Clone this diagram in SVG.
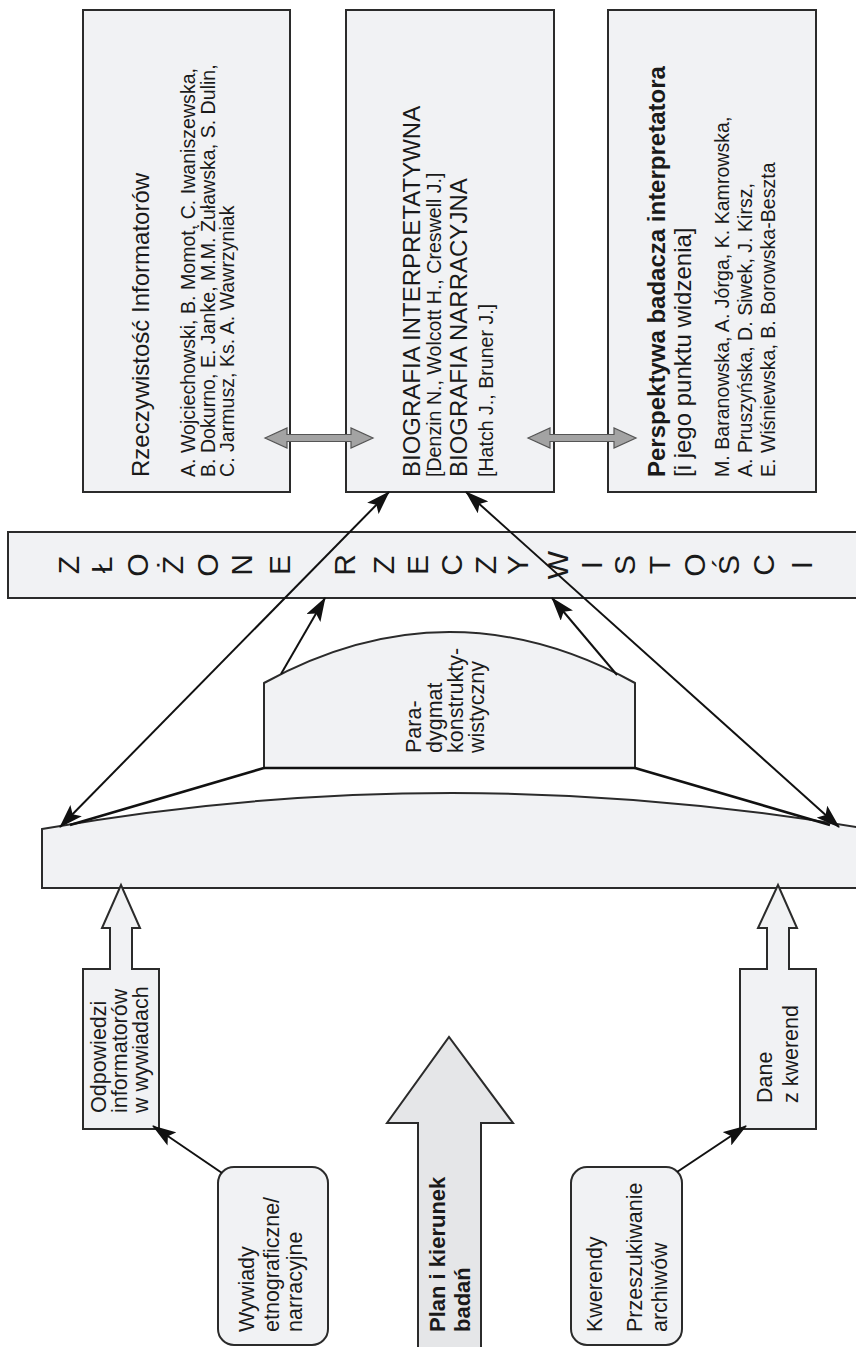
<svg xmlns="http://www.w3.org/2000/svg" width="856" height="1347" viewBox="0 0 856 1347">
<defs>
<style>
.box{fill:#f1f2f4;stroke:#2b2b2b;stroke-width:2}
.big{fill:#e5e6e8;stroke:#2b2b2b;stroke-width:2}
.dbl{fill:#a3a3a3;stroke:#555;stroke-width:1.2}
.ln{fill:none;stroke:#111;stroke-width:2}
.thick{fill:none;stroke:#111;stroke-width:2.6}
text{font-family:"Liberation Sans",Arial,sans-serif;fill:#1a1a1a}
.t{font-size:24px}
.s{font-size:19.6px}
.m{font-size:21.5px}
.b{font-weight:bold}
.ban{font-size:30px;text-anchor:middle;dominant-baseline:central}
</style>
<marker id="ah" viewBox="0 0 24 16" refX="23" refY="8" markerWidth="24" markerHeight="16" markerUnits="userSpaceOnUse" orient="auto-start-reverse">
<path d="M0,0 L24,8 L0,16 L5,8 Z" fill="#111"/>
</marker>
</defs>
<rect width="856" height="1347" fill="#fff"/>

<g id="box-rzeczywistosc">
<rect class="box" x="83" y="10" width="207" height="482"/>
<g transform="rotate(-90)">
<text class="t" x="-477" y="149">Rzeczywistość Informatorów</text>
<text class="s" x="-477" y="195">A. Wojciechowski, B. Momot, C. Iwaniszewska,</text>
<text class="s" x="-477" y="214.5">B. Dokurno, E. Janke, M.M. Żuławska, S. Dulin,</text>
<text class="s" x="-477" y="234">C. Jarmusz, Ks. A. Wawrzyniak</text>
</g>
</g>

<g id="box-biografia">
<rect class="box" x="346" y="10" width="208" height="482"/>
<g transform="rotate(-90)">
<text class="t" x="-477" y="420">BIOGRAFIA INTERPRETATYWNA</text>
<text class="s" x="-477" y="441">[Denzin N., Wolcott H., Creswell J.]</text>
<text class="t" x="-477" y="467">BIOGRAFIA NARRACYJNA</text>
<text class="s" x="-477" y="493">[Hatch J., Bruner J.]</text>
</g>
</g>

<g id="box-perspektywa">
<rect class="box" x="608" y="10" width="208" height="482"/>
<g transform="rotate(-90)">
<text class="t b" x="-477" y="665">Perspektywa badacza interpretatora</text>
<text class="t" x="-477" y="691">[i jego punktu widzenia]</text>
<text class="s" x="-477" y="729">M. Baranowska, A. Jórga, K. Kamrowska,</text>
<text class="s" x="-477" y="752">A. Pruszyńska, D. Siwek, J. Kirsz,</text>
<text class="s" x="-477" y="775">E. Wiśniewska, B. Borowska-Beszta</text>
</g>
</g>

<g id="banner">
<rect class="box" x="8" y="532" width="860" height="66"/>
<g transform="rotate(-90)">
<text class="ban" x="-565" y="68">Z</text>
<text class="ban" x="-565" y="101">Ł</text>
<text class="ban" x="-565" y="137">O</text>
<text class="ban" x="-565" y="172">Ż</text>
<text class="ban" x="-565" y="207">O</text>
<text class="ban" x="-565" y="241">N</text>
<text class="ban" x="-565" y="279">E</text>
<text class="ban" x="-565" y="344">R</text>
<text class="ban" x="-565" y="383">Z</text>
<text class="ban" x="-565" y="417">E</text>
<text class="ban" x="-565" y="451">C</text>
<text class="ban" x="-565" y="485">Z</text>
<text class="ban" x="-565" y="517">Y</text>
<text class="ban" x="-565" y="557">W</text>
<text class="ban" x="-565" y="591">I</text>
<text class="ban" x="-565" y="624">S</text>
<text class="ban" x="-565" y="659">T</text>
<text class="ban" x="-565" y="694">O</text>
<text class="ban" x="-565" y="728">Ś</text>
<text class="ban" x="-565" y="763">C</text>
<text class="ban" x="-565" y="801">I</text>
</g>
</g>

<g id="lens">
<path class="box" d="M42,888 L42,829 Q449,757 868,829 L868,888 Z"/>
</g>

<g id="paradygmat">
<path class="box" d="M264,768 L264,683 Q449.5,581 635,683 L635,768 Z"/>
<path class="thick" d="M264,768 L635,768"/>
<g transform="rotate(-90)">
<text class="m" x="-753" y="421">Para-</text>
<text class="m" x="-753" y="442">dygmat</text>
<text class="m" x="-753" y="463">konstrukty-</text>
<text class="m" x="-753" y="484">wistyczny</text>
</g>
</g>

<g id="odpowiedzi">
<path class="box" d="M83,1129 L83,969 L110,969 L110,928 L102,928 L121,885 L140,928 L132,928 L132,969 L159,969 L159,1129 Z"/>
<g transform="rotate(-90)">
<text class="m" x="-1113" y="106">Odpowiedzi</text>
<text class="m" x="-1113" y="127">informatorów</text>
<text class="m" x="-1113" y="148">w wywiadach</text>
</g>
</g>

<g id="wywiady">
<rect class="box" x="218" y="1167" width="110" height="178" rx="16"/>
<g transform="rotate(-90)">
<text class="m" x="-1332" y="254">Wywiady</text>
<text class="m" x="-1332" y="279">etnograficzne/</text>
<text class="m" x="-1332" y="302">narracyjne</text>
</g>
</g>

<g id="plan">
<path class="big" d="M418,1350 L418,1123 L387,1123 L449,1037 L513,1123 L481,1123 L481,1350 Z"/>
<g transform="rotate(-90)">
<text class="b" style="font-size:22px" x="-1332" y="445">Plan i kierunek</text>
<text class="b" style="font-size:22px" x="-1332" y="470">badań</text>
</g>
</g>

<g id="dane">
<path class="box" d="M740,1129 L740,969 L767,969 L767,928 L758,928 L778,885 L797,928 L789,928 L789,969 L816,969 L816,1129 Z"/>
<g transform="rotate(-90)">
<text class="m" x="-1103" y="772">Dane</text>
<text class="m" x="-1103" y="798">z kwerend</text>
</g>
</g>

<g id="kwerendy">
<rect class="box" x="571" y="1167" width="111" height="178" rx="16"/>
<g transform="rotate(-90)">
<text class="m" x="-1332" y="602">Kwerendy</text>
<text class="m" x="-1332" y="642">Przeszukiwanie</text>
<text class="m" x="-1332" y="667">archiwów</text>
</g>
</g>

<g id="connectors">
<path class="dbl" d="M265,438 L287,428 L287,434.5 L351,434.5 L351,428 L373,438 L351,448 L351,441.5 L287,441.5 L287,448 Z"/>
<path class="dbl" d="M528,438 L550,428 L550,434.5 L614,434.5 L614,428 L636,438 L614,448 L614,441.5 L550,441.5 L550,448 Z"/>
<path class="ln" d="M60,827 L389,492" marker-start="url(#ah)" marker-end="url(#ah)"/>
<path class="ln" d="M839,827 L466,492" marker-start="url(#ah)" marker-end="url(#ah)"/>
<path class="thick" d="M264,768 L70,825"/>
<path class="thick" d="M635,768 L830,825"/>
<path class="ln" d="M281,674 L325,598" marker-end="url(#ah)"/>
<path class="ln" d="M617,675 L552,598" marker-end="url(#ah)"/>
<path class="ln" d="M222,1173 L153,1126" marker-end="url(#ah)"/>
<path class="ln" d="M677,1172 L746,1126" marker-end="url(#ah)"/>
</g>
</svg>
